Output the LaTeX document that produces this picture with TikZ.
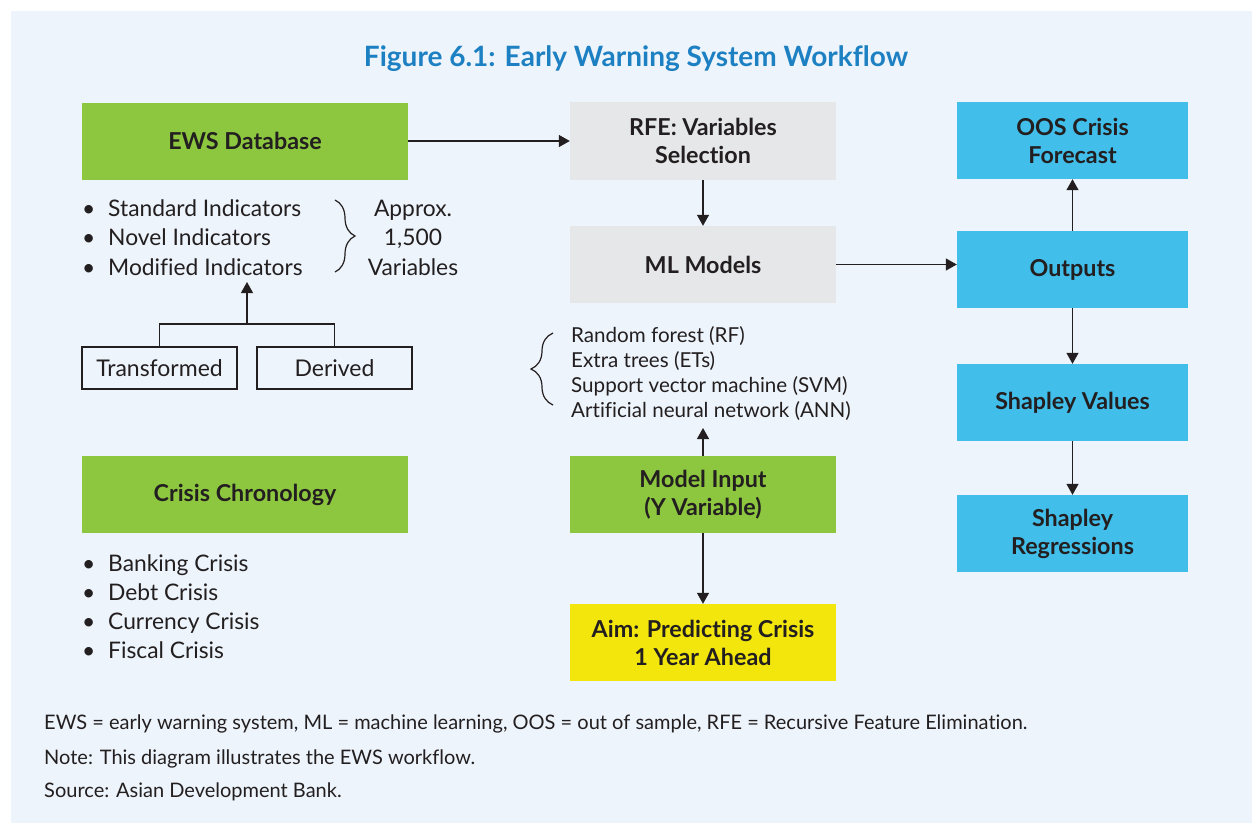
\documentclass[tikz,border=0pt]{standalone}
\usepackage{fontspec}
\setmainfont{Lato}[Ligatures={NoCommon}]
\usetikzlibrary{arrows.meta,decorations.pathreplacing}

\definecolor{panel}{HTML}{EDF4FB}
\definecolor{ink}{HTML}{231F20}
\definecolor{titleblue}{HTML}{1C80C2}
\definecolor{leaf}{HTML}{8DC63F}
\definecolor{mist}{HTML}{E6E7E8}
\definecolor{sky}{HTML}{41BEE9}
\definecolor{sun}{HTML}{F2E60C}

\begin{document}
\begin{tikzpicture}[x=1pt,y=-1pt,
  every node/.style={text=ink, inner sep=0pt},
  box/.style={minimum height=77pt, align=center,
    font=\fontsize{23.3}{28}\selectfont\bfseries},
  widebox/.style={box, minimum width=326pt},
  midbox/.style={box, minimum width=266pt},
  sidebox/.style={box, minimum width=231pt, fill=sky},
  smallbox/.style={draw=ink, line width=1.3pt, minimum width=155pt,
    minimum height=42pt, font=\fontsize{23}{25}\selectfont},
  body/.style={font=\fontsize{22.8}{25}\selectfont, anchor=base west},
  model/.style={font=\fontsize{20.6}{25}\selectfont, anchor=base west},
  note/.style={font=\fontsize{20}{22}\selectfont, anchor=base west},
  flow/.style={draw=ink, line width=1.3pt, -{Triangle[length=11pt,width=12pt]}},
  link/.style={draw=ink, line width=1.3pt},
  curly/.style={draw=ink, line width=1.2pt,
    decorate, decoration={brace, amplitude=#1}}
]
% page and panel
\useasboundingbox (0,0) rectangle (1252,823);
\fill[white] (0,0) rectangle (1252,823);
\fill[panel] (11,11) rectangle (1252,823);

% title
\node[font=\fontsize{28}{32}\selectfont\bfseries, text=titleblue, anchor=base]
  (title) at (636,66) {Figure 6.1: Early Warning System Workflow};

% left column
\node[widebox, fill=leaf] (ews) at (245,141) {EWS Database};
\node[body] (b1dot) at (82,216.5) {\textbullet};
\node[body] (b1) at (108,216.5) {Standard Indicators};
\node[body] (b2dot) at (82,245.7) {\textbullet};
\node[body] (b2) at (108,245.7) {Novel Indicators};
\node[body] (b3dot) at (82,275) {\textbullet};
\node[body] (b3) at (108,275) {Modified Indicators};
\draw[curly=20pt] (335,200) -- (335,272);
\node[body, anchor=base] (approx) at (413,216.5) {Approx.};
\node[body, anchor=base] (count) at (413,245.7) {1,500};
\node[body, anchor=base] (vars) at (413,275) {Variables};

\node[smallbox] (trans) at (159.5,368) {Transformed};
\node[smallbox] (deriv) at (334.5,368) {Derived};
\coordinate (join) at (247,324);
\coordinate (modtip) at (247,282);
\draw[link] (trans.north) |- (join) -| (deriv.north);
\draw[flow] (join) -- (modtip);

\node[widebox, fill=leaf] (chron) at (245,494.5) {Crisis Chronology};
\node[body] (c1dot) at (82,571) {\textbullet};
\node[body] (c1) at (108,571) {Banking Crisis};
\node[body] (c2dot) at (82,600) {\textbullet};
\node[body] (c2) at (108,600) {Debt Crisis};
\node[body] (c3dot) at (82,629) {\textbullet};
\node[body] (c3) at (108,629) {Currency Crisis};
\node[body] (c4dot) at (82,658) {\textbullet};
\node[body] (c4) at (108,658) {Fiscal Crisis};

% middle column
\node[midbox, fill=mist, minimum height=78pt] (rfe) at (703,141) {RFE: Variables\\Selection};
\node[midbox, fill=mist] (ml) at (703,264.5) {ML Models};
\draw[curly=22pt] (553,405) -- (553,333);
\node[model] (m1) at (571,342) {Random forest (RF)};
\node[model] (m2) at (571,367) {Extra trees (ETs)};
\node[model] (m3) at (571,392) {Support vector machine (SVM)};
\node[model] (m4) at (571,417) {Artificial neural network (ANN)};
\coordinate (listfoot) at (703,428);
\node[midbox, fill=leaf] (input) at (703,494.5) {Model Input\\(Y Variable)};
\node[midbox, fill=sun] (aim) at (703,642.5) {Aim: Predicting Crisis\\1 Year Ahead};

% right column
\node[sidebox] (oos) at (1072.5,140.5) {OOS Crisis\\Forecast};
\node[sidebox] (outs) at (1072.5,269.5) {Outputs};
\node[sidebox] (shv) at (1072.5,402.5) {Shapley Values};
\node[sidebox] (shr) at (1072.5,533.5) {Shapley\\Regressions};

% connectors
\draw[flow] (ews.east) -- (ews.east -| rfe.west);
\draw[flow] (rfe.south) -- (ml.north);
\draw[flow] (ml.east) -- (ml.east -| outs.west);
\draw[flow] (input.north) -- (listfoot);
\draw[flow] (input.south) -- (aim.north);
\draw[flow] (outs.north) -- (oos.south);
\draw[flow] (outs.south) -- (shv.north);
\draw[flow] (shv.south) -- (shr.north);

% notes
\node[note] (n1) at (44,729) {EWS = early warning system, ML = machine learning, OOS = out of sample, RFE = Recursive Feature Elimination.};
\node[note] (n2) at (44,764.5) {Note: This diagram illustrates the EWS workflow.};
\node[note] (n3) at (44,797.5) {Source: Asian Development Bank.};
\end{tikzpicture}
\end{document}
